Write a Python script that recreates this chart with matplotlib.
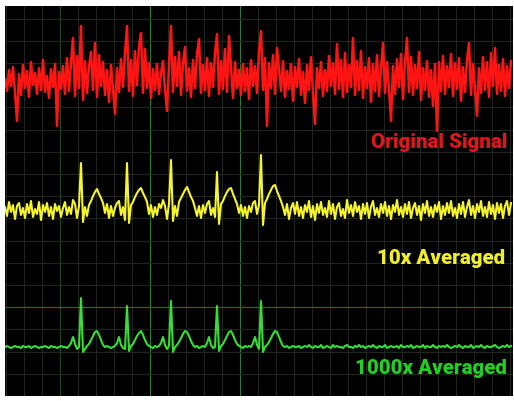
"""Moyennage de signal : signal brut, 10x et 1000x moyenné (style oscilloscope)."""
import numpy as np
import matplotlib
matplotlib.use("Agg")
import matplotlib.pyplot as plt

# amplitudes (1 échantillon = 2 px), positif = vers le haut
original = [
    3, -9, 12, -4, 15, -11, -39, 8, -13, 17, -6, 11, -15, 20, -3, 9, -12, 14, -8, 22,
    -10, 6, -16, 13, -5, 18, -44, 10, -7, 16, -12, 24, -9, 19, 44, -14, 26, -6, 56, -18,
    21, -11, 15, 30, -8, 39, -15, 27, -4, 20, -13, 12, -20, 17, -7, -32, 14, -10, 23, -5,
    28, 56, -9, 22, -14, 31, -3, 36, 49, -11, 33, -6, 19, -16, 13, -8, 18, -12, 9, 21,
    -7, -29, 16, 56, -10, 25, -4, 30, -13, 18, 35, -9, 14, -15, 22, -6, 28, 43, -11, 17,
    -8, 24, -14, 19, -5, 29, 48, -12, 21, -7, 33, -10, 46, 15, -16, 20, -6, 12, -13, 18,
    -9, 14, -17, 22, -4, 16, -11, 30, 51, -8, 24, -44, 19, -6, 27, -12, 34, 13, -9, 21,
    -15, 11, -7, 18, -19, 15, -5, 23, -13, 10, -21, 17, -8, 25, -11, -42, 14, -6, 20, -14,
    12, -9, 26, -4, 19, -12, 38, -7, 22, -15, 29, -10, 17, -5, 44, -13, 21, -8, 31, -16,
    15, -6, 24, -20, 18, -9, 27, -14, 13, 39, -11, 20, -7, -39, 16, -12, 23, -5, 28, -17,
    19, 44, -10, 25, -13, 17, -6, 30, -18, 14, -8, 21, -15, 12, -24, 18, -49, 20, -9, 26,
    -12, 16, -5, 28, -14, 19, -7, 24, -19, 15, -10, 22, 39, -13, 18, -6, -34, 14, -11, 25,
    -8, 20, -15, 29, -4, 34, -12, 17, -9, 23, -14, 16, -6, 21,
]
avg10 = [
    3, -6, 8, -2, 5, -9, 4, 7, -5, 2, -8, 6, -3, 9, -7, 1, -4, 8, -10, 5,
    -2, 7, -6, 3, -9, 6, -1, 4, -7, 2, 8, -5, 3, -4, 10, 6, -8, 4, 47, -12,
    3, -6, 5, 9, 14, 18, 21, 16, 12, 7, -3, 6, -8, 4, -6, 2, 7, 9, -5, 3,
    -10, 47, -13, 5, 8, 13, 17, 20, 22, 17, 13, 8, -4, 5, -7, 3, -5, 6, 2, 10,
    4, -9, 6, 50, -11, 4, -6, 8, 12, 16, 20, 23, 18, 13, 9, 2, -6, 4, -8, 5,
    -3, 6, 9, -5, 2, -7, 38, -14, 6, 9, 14, 18, 21, 22, 16, 11, 6, -3, 5, -6,
    3, -8, 4, -2, 7, 9, -4, 5, 55, -15, 7, 11, 16, 20, 24, 25, 19, 14, 9, 3,
    -5, 6, -9, 2, 7, -4, 8, -6, 3, -8, 5, -2, 9, -7, 4, -10, 6, -3, 8, -5,
    2, -7, 9, -4, 6, -9, 3, 7, -6, 1, -8, 10, -3, 5, -6, 8, -2, 4, -9, 6,
    -4, 7, -8, 3, 9, -5, 2, -7, 6, -3, 8, -6, 4, -9, 5, -2, 10, -5, 3, -7,
    6, -4, 8, -8, 2, 7, -5, 4, -10, 6, -3, 9, -6, 3, -7, 5, -2, 8, -9, 4,
    -5, 7, -3, 9, -6, 2, -8, 6, -4, 8, -7, 3, 10, -5, 4, -8, 6, -2, 9, -6,
    3, -7, 8, -4, 5, -9, 7, -3, 6, -8, 4, 9, -5, 7,
]
avg1000 = [
    0, 1, 0, -1, 0, 1, 0, 0, -1, 1,
    0, 0, 1, -1, 0, 1, 0, -1, 0, 0,
    1, 0, -1, 1, 0, 0, -1, 0, 1, 0,
    0, -1, 1, 4, 10, 3, -2, 0, 49, -5,
    -2, 1, 3, 7, 11, 15, 16, 12, 7, 2,
    0, 1, 0, -1, 0, 1, 4, 10, 2, -1,
    -2, 41, -4, 1, 3, 7, 11, 14, 16, 12,
    7, 3, 1, 0, -1, 1, 0, 1, 4, 10,
    2, -2, 1, 46, -5, 0, 2, 5, 9, 13,
    16, 15, 11, 6, 2, 0, 1, -1, 0, 1,
    0, 4, 10, 2, -1, 0, 41, -4, 1, 3,
    7, 11, 15, 16, 12, 7, 3, 1, 0, -1,
    1, 0, 1, 0, 4, 10, 2, -2, 46, -5,
    0, 2, 5, 9, 13, 16, 15, 10, 5, 1,
    0, 1, -1, 0, 1, 0, 0, 1, -1, 0,
    1, 0, 2, 0, -1, 1, 0, 0, 2, -1,
    0, 1, 0, -1, 2, 0, 1, 0, 0, -1,
    1, 2, 0, 0, -1, 1, 0, 2, 0, 1,
    -1, 0, 1, 0, 2, 0, -1, 1, 0, 0,
    2, -1, 0, 1, 0, 0, 1, -1, 2, 0,
    0, 1, 0, 2, -1, 0, 1, 0, 0, 2,
    -1, 1, 0, 0, 2, 0, -1, 1, 0, 1,
    0, 2, 0, -1, 0, 1, 0, 2, 0, -1,
    1, 0, 0, 2, -1, 0, 1, 0, 2, 0,
    -1, 1, 0, 0, 1, 2, 0, -1, 0, 1,
    0, 2, 0, 1,
]
labels = ["Original Signal", "10x Averaged", "1000x Averaged"]

W, H = 514, 401
fig = plt.figure(figsize=(W / 100, H / 100), dpi=100, facecolor="white")
ax = fig.add_axes([5 / W, 5 / H, 508 / W, 390 / H])
ax.set_facecolor("black")
ax.set_xlim(0, 254)
ax.set_ylim(0, 390)

# grille façon oscilloscope : fine grise, quelques lignes vertes
bright_x = (8, 13)
for k, gx in enumerate(np.arange(0.5, 254, 9)):
    if k in bright_x:
        col = "#2f7a2f"
    elif k == 3:
        col = "#1f4a1f"
    else:
        col = "#20261f"
    ax.axvline(gx, color=col, lw=0.8, zorder=0)
for k, gy in enumerate(np.arange(0, 390, 22.2)):
    col = "#2a6a2a" if k in (0, 4) else "#20261f"
    ax.axhline(gy, color=col, lw=0.8, zorder=0)

traces = [(original, 314, "#ff1414", 1.8),
          (avg10, 186, "#f5f52a", 1.5),
          (avg1000, 49, "#34e034", 1.5)]
for vals, off, col, lw in traces:
    v = np.asarray(vals, dtype=float)
    ax.plot(np.arange(len(v)), v + off, color=col, lw=lw, zorder=2)

txt = [(labels[0], 254, "#e0161c", 251), (labels[1], 137, "#f0f026", 250),
       (labels[2], 27, "#24cc24", 251)]
for s, y, col, xr in txt:
    ax.text(xr, y, s, color=col, ha="right", va="center", fontsize=14.8,
            fontweight="black", family=["Roboto", "DejaVu Sans"], zorder=3)

for sp in ax.spines.values():
    sp.set_visible(False)
ax.set_xticks([]); ax.set_yticks([])
fig.savefig("out.png", dpi=100, facecolor="white")
